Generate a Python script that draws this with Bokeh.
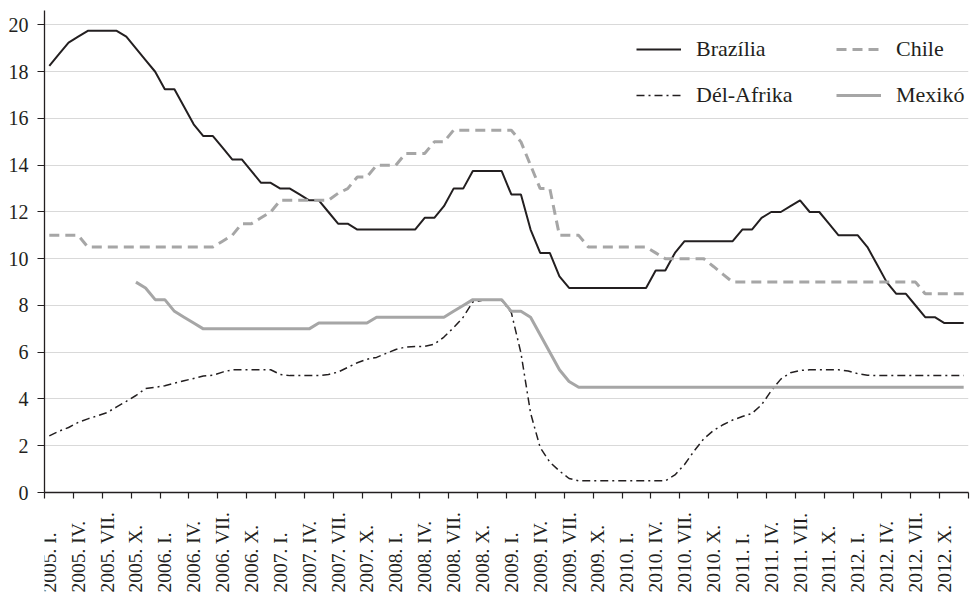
import math
from bokeh.plotting import figure
from bokeh.layouts import column
from bokeh.models import (ColumnDataSource, Range1d, FixedTicker, Legend,
                          LegendItem, LabelSet)
from bokeh.embed import file_html
from bokeh.resources import INLINE

# ---------------- data (monthly, 2005 Jan - 2012 Dec) ----------------
years = [2005, 2006, 2007, 2008, 2009, 2010, 2011, 2012]
quarter_names = ["I.", "IV.", "VII.", "X."]
tick_labels = [f"{y}. {q}" for y in years for q in quarter_names]

brazil = [18.25, 18.75, 19.25, 19.5, 19.75, 19.75, 19.75, 19.75, 19.5, 19.0, 18.5, 18.0,
          17.25, 17.25, 16.5, 15.75, 15.25, 15.25, 14.75, 14.25, 14.25, 13.75, 13.25, 13.25,
          13.0, 13.0, 12.75, 12.5, 12.5, 12.0, 11.5, 11.5, 11.25, 11.25, 11.25, 11.25,
          11.25, 11.25, 11.25, 11.75, 11.75, 12.25, 13.0, 13.0, 13.75, 13.75, 13.75, 13.75,
          12.75, 12.75, 11.25, 10.25, 10.25, 9.25, 8.75, 8.75, 8.75, 8.75, 8.75, 8.75,
          8.75, 8.75, 8.75, 9.5, 9.5, 10.25, 10.75, 10.75, 10.75, 10.75, 10.75, 10.75,
          11.25, 11.25, 11.75, 12.0, 12.0, 12.25, 12.5, 12.0, 12.0, 11.5, 11.0, 11.0,
          11.0, 10.5, 9.75, 9.0, 8.5, 8.5, 8.0, 7.5, 7.5, 7.25, 7.25, 7.25]

chile = [11.0, 11.0, 11.0, 11.0, 10.5, 10.5, 10.5, 10.5, 10.5, 10.5, 10.5, 10.5,
         10.5, 10.5, 10.5, 10.5, 10.5, 10.5, 10.75, 11.0, 11.5, 11.5, 11.75, 12.0,
         12.5, 12.5, 12.5, 12.5, 12.5, 12.5, 12.8, 13.0, 13.5, 13.5, 14.0, 14.0,
         14.0, 14.5, 14.5, 14.5, 15.0, 15.0, 15.5, 15.5, 15.5, 15.5, 15.5, 15.5,
         15.5, 15.0, 14.0, 13.0, 13.0, 11.0, 11.0, 11.0, 10.5, 10.5, 10.5, 10.5,
         10.5, 10.5, 10.5, 10.25, 10.0, 10.0, 10.0, 10.0, 10.0, 9.67, 9.33, 9.0,
         9.0, 9.0, 9.0, 9.0, 9.0, 9.0, 9.0, 9.0, 9.0, 9.0, 9.0, 9.0,
         9.0, 9.0, 9.0, 9.0, 9.0, 9.0, 9.0, 8.5, 8.5, 8.5, 8.5, 8.5]

south_africa = [2.42, 2.62, 2.78, 3.0, 3.15, 3.28, 3.42, 3.66, 3.9, 4.15, 4.45, 4.5,
                4.57, 4.68, 4.78, 4.88, 4.98, 5.02, 5.15, 5.25, 5.25, 5.25, 5.25, 5.25,
                5.05, 5.0, 5.0, 5.0, 5.0, 5.05, 5.15, 5.35, 5.55, 5.7, 5.78, 5.95,
                6.12, 6.22, 6.25, 6.25, 6.35, 6.65, 7.05, 7.5, 8.15, 8.22, 8.22, 8.22,
                7.7, 5.97, 3.4, 1.92, 1.3, 0.92, 0.6, 0.5, 0.5, 0.5, 0.5, 0.5,
                0.5, 0.5, 0.5, 0.5, 0.5, 0.75, 1.2, 1.78, 2.3, 2.65, 2.9, 3.1,
                3.25, 3.38, 3.75, 4.35, 4.85, 5.12, 5.22, 5.25, 5.25, 5.25, 5.25, 5.2,
                5.08, 5.02, 5.0, 5.0, 5.0, 5.0, 5.0, 5.0, 5.0, 5.0, 5.0, 5.0]

nan = float("nan")
mexico = [nan, nan, nan, nan, nan, nan, nan, nan, nan, 9.0, 8.75, 8.25,
          8.25, 7.75, 7.5, 7.25, 7.0, 7.0, 7.0, 7.0, 7.0, 7.0, 7.0, 7.0,
          7.0, 7.0, 7.0, 7.0, 7.25, 7.25, 7.25, 7.25, 7.25, 7.25, 7.5, 7.5,
          7.5, 7.5, 7.5, 7.5, 7.5, 7.5, 7.75, 8.0, 8.25, 8.25, 8.25, 8.25,
          7.75, 7.75, 7.5, 6.75, 6.0, 5.25, 4.75, 4.5, 4.5, 4.5, 4.5, 4.5,
          4.5, 4.5, 4.5, 4.5, 4.5, 4.5, 4.5, 4.5, 4.5, 4.5, 4.5, 4.5,
          4.5, 4.5, 4.5, 4.5, 4.5, 4.5, 4.5, 4.5, 4.5, 4.5, 4.5, 4.5,
          4.5, 4.5, 4.5, 4.5, 4.5, 4.5, 4.5, 4.5, 4.5, 4.5, 4.5, 4.5]

y_ticks = [0, 2, 4, 6, 8, 10, 12, 14, 16, 18, 20]

# ---------------- styling / layout ----------------
FONT = "'Liberation Serif', 'Times New Roman', serif"
INK = "#231f20"
GREY = "#a6a6a6"
W = 970
BORDER_L, BORDER_R, BORDER_T, BORDER_B = 44, 2, 10, 12
FRAME_H = 482
MAIN_H = BORDER_T + FRAME_H + BORDER_B
LABEL_H = 594 - MAIN_H          # strip below the chart holding the rotated labels
LABEL_BOTTOM_PAD = 2
Y_MAX = 20.62
n_months = len(brazil)
month_x = [i + 0.5 for i in range(n_months)]          # category centres
quarter_bounds = list(range(0, n_months + 1, 3))      # tick marks between categories

p = figure(width=W, height=MAIN_H, output_backend="svg", toolbar_location=None,
           x_range=Range1d(0, n_months), y_range=Range1d(0, Y_MAX),
           min_border_left=BORDER_L, min_border_right=BORDER_R,
           min_border_top=BORDER_T, min_border_bottom=BORDER_B)
p.outline_line_color = None
p.background_fill_color = "white"
p.border_fill_color = "white"

src = ColumnDataSource(dict(x=month_x, br=brazil, cl=chile, za=south_africa, mx=mexico))

r_br = p.line("x", "br", source=src, line_color=INK, line_width=2.0)
r_cl = p.line("x", "cl", source=src, line_color=GREY, line_width=3.0, line_dash="10 6")
r_za = p.line("x", "za", source=src, line_color=INK, line_width=1.5, line_dash="8 4 2 4")
r_mx = p.line("x", "mx", source=src, line_color=GREY, line_width=3.0)

# axes
p.xaxis.ticker = FixedTicker(ticks=quarter_bounds)
p.xaxis.major_label_overrides = {t: "" for t in quarter_bounds}
p.xaxis.major_label_standoff = 0
p.xaxis.major_tick_out = 6
p.xaxis.major_tick_in = 0
p.xaxis.minor_tick_line_color = None
p.xaxis.axis_line_color = INK
p.xaxis.major_tick_line_color = INK
p.xaxis.axis_line_width = 1.3
p.xaxis.major_tick_line_width = 1.2

p.yaxis.ticker = FixedTicker(ticks=y_ticks)
p.yaxis.major_tick_out = 7
p.yaxis.major_tick_in = 0
p.yaxis.minor_tick_line_color = None
p.yaxis.axis_line_color = INK
p.yaxis.major_tick_line_color = INK
p.yaxis.axis_line_width = 1.3
p.yaxis.major_tick_line_width = 1.2
p.yaxis.major_label_standoff = 9
p.yaxis.major_label_text_font = FONT
p.yaxis.major_label_text_font_size = "20px"
p.yaxis.major_label_text_color = INK

p.xgrid.grid_line_color = None
p.ygrid.ticker = FixedTicker(ticks=y_ticks)
p.ygrid.grid_line_color = "#d9d9d9"
p.ygrid.grid_line_width = 1

# legends (two columns)
def make_legend(items, vx, vy):
    return Legend(items=items, location=(vx, vy), orientation="vertical",
                  glyph_width=45, glyph_height=26, label_height=26,
                  label_standoff=15, spacing=20, padding=0, margin=0,
                  border_line_color=None, border_line_width=0,
                  background_fill_alpha=0,
                  label_text_font=FONT, label_text_font_size="22px",
                  label_text_color=INK)

leg1 = make_legend([LegendItem(label="Brazília", renderers=[r_br]),
                    LegendItem(label="Dél-Afrika", renderers=[r_za])], 592, 384)
leg2 = make_legend([LegendItem(label="Chile", renderers=[r_cl]),
                    LegendItem(label="Mexikó", renderers=[r_mx])], 792, 384)
p.add_layout(leg1)
p.add_layout(leg2)

# label strip: shares the x range, rotated labels start at the bottom
q = figure(width=W, height=LABEL_H, output_backend="svg", toolbar_location=None,
           x_range=p.x_range, y_range=Range1d(0, LABEL_H),
           min_border_left=BORDER_L, min_border_right=BORDER_R,
           min_border_top=0, min_border_bottom=0)
q.axis.visible = False
q.grid.grid_line_color = None
q.outline_line_color = None
q.background_fill_color = "white"
q.border_fill_color = "white"

lab_src = ColumnDataSource(dict(
    x=[b + 0.5 for b in quarter_bounds[:-1]],
    y=[LABEL_BOTTOM_PAD] * len(tick_labels),
    text=tick_labels))
labels = LabelSet(x="x", y="y", text="text", source=lab_src,
                  angle=math.pi / 2, text_align="left", text_baseline="middle",
                  text_font=FONT, text_font_size="19.5px", text_color=INK)
q.add_layout(labels)

layout = column(p, q, spacing=0)
open("out.html", "w").write(file_html(layout, INLINE))
